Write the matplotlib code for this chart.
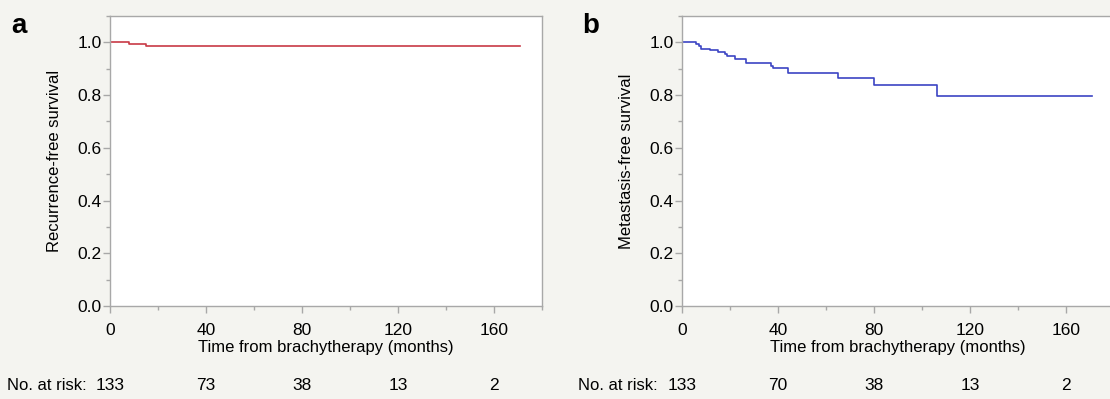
import matplotlib
matplotlib.use("Agg")
import matplotlib.pyplot as plt
from matplotlib.ticker import MultipleLocator
import matplotlib.transforms as mtransforms

plt.rcParams['font.family'] = ['Liberation Sans', 'DejaVu Sans']

# Panel a: recurrence-free survival (Kaplan-Meier steps)
times_a = [0, 8.0, 15.0, 171.0]
surv_a = [1.0, 0.9925, 0.985, 0.985]

# Panel b: metastasis-free survival
times_b = [0, 6.0, 6.9, 8.0, 11.8, 14.8, 17.8, 18.7, 21.9, 26.8, 37.1, 37.8, 44.0, 64.8, 80.1, 106.2, 171.0]
surv_b = [1.0, 0.992, 0.985, 0.976, 0.970, 0.962, 0.955, 0.947, 0.937, 0.923, 0.911, 0.901, 0.883, 0.864, 0.839, 0.797, 0.797]

risk_times = [0, 40, 80, 120, 160]
risk_a = [133, 73, 38, 13, 2]
risk_b = [133, 70, 38, 13, 2]

ylabels = ["Recurrence-free survival", "Metastasis-free survival"]
panel_letters = ["a", "b"]
xlabel = "Time from brachytherapy (months)"

W, H = 1110, 399
fig = plt.figure(figsize=(W / 100, H / 100), dpi=100, facecolor='#f4f4f0')

spine_col = '#a8a8a8'
fs_tick = 12.5
fs = 12

def px_rect(l, r, t, b):
    return [l / W, 1 - b / H, (r - l) / W, (b - t) / H]

axes_px = [(110, 542, 16, 306), (682, 1114, 16, 306)]
data = [(times_a, surv_a, '#c83a46', risk_a), (times_b, surv_b, '#3c44c4', risk_b)]
letter_x = [11, 582]

for i, ((l, r, t, b), (tt, ss, col, risk)) in enumerate(zip(axes_px, data)):
    ax = fig.add_axes(px_rect(l, r, t, b))
    ax.set_facecolor('white')
    ax.step(tt, ss, where='post', color=col, lw=1.2)
    ax.set_xlim(0, 180)
    ax.set_ylim(0, 1.1)
    ax.xaxis.set_minor_locator(MultipleLocator(20))
    ax.yaxis.set_minor_locator(MultipleLocator(0.1))
    ax.set_xticks([0, 40, 80, 120, 160])
    ax.set_yticks([0, 0.2, 0.4, 0.6, 0.8, 1.0])
    ax.set_yticklabels(["0.0", "0.2", "0.4", "0.6", "0.8", "1.0"])
    for sp in ax.spines.values():
        sp.set_color(spine_col)
        sp.set_linewidth(1.0)
    ax.tick_params(which='major', length=5, width=1.0, color=spine_col,
                   labelsize=fs_tick, labelcolor='black')
    ax.tick_params(axis='x', which='major', pad=7)
    ax.tick_params(axis='y', which='major', pad=1)
    ax.tick_params(which='minor', length=3, width=1.0, color=spine_col)
    ax.set_xlabel(xlabel, fontsize=fs, labelpad=2)
    ax.set_ylabel(ylabels[i], fontsize=fs, labelpad=11)
    fig.text(letter_x[i] / W, 1 - 26 / H, panel_letters[i], fontsize=20,
             fontweight='bold', ha='left', va='center')
    trans = mtransforms.blended_transform_factory(ax.transData, fig.transFigure)
    for xt, n in zip(risk_times, risk):
        ax.text(xt, 1 - 386 / H, str(n), transform=trans, ha='center',
                va='center', fontsize=fs_tick, clip_on=False)
    fig.text((letter_x[i] - 4) / W, 1 - 386 / H, "No. at risk:", fontsize=fs,
             ha='left', va='center')

fig.savefig("out.png", dpi=100, facecolor=fig.get_facecolor())
